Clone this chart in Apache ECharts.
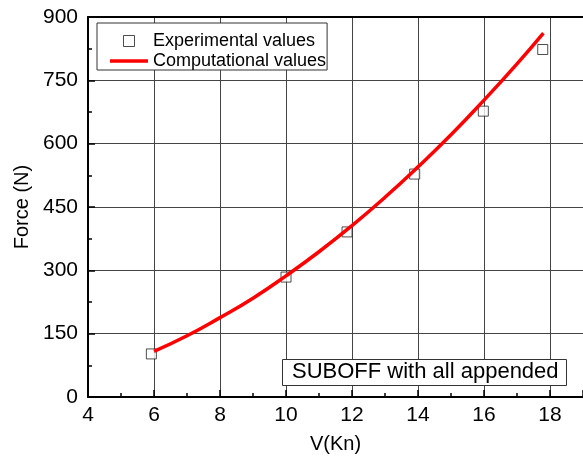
<!DOCTYPE html>
<html>
<head>
<meta charset="utf-8">
<script src="https://cdn.jsdelivr.net/npm/echarts@6/dist/echarts.min.js"></script>
<style>
    html, body { margin: 0; padding: 0; background: #fff; }
    #chart { width: 583px; height: 459px; }
</style>
</head>
<body>
<div id="chart"></div>
<script>
// experimental points (V in knots, force in N)
const expSpeed = [ 5.92, 10.0, 11.85, 13.9, 15.98, 17.78 ];
const expForce = [ 102, 284, 391, 528, 677, 823 ];

// computational curve
const compSpeed = [ 6, 7, 8, 9, 10, 11, 12, 13, 14, 15, 16, 17, 17.8 ];
const compForce = [ 108, 145, 188, 234, 287, 344, 406, 473, 545, 621, 703, 789, 862 ];

const xTicks = [ 4, 6, 8, 10, 12, 14, 16, 18 ];
const yTicks = [ 0, 150, 300, 450, 600, 750, 900 ];

const FONT = 'Arial, "Liberation Sans", sans-serif';

const chartContext = {
    draw() {
        const el = document.getElementById( 'chart' );
        if ( !el ) return;
        const c = echarts.init( el, null, { renderer: 'canvas' } );

        const axisLine = { show: true, onZero: false, lineStyle: { color: '#000', width: 2 } };
        const grid = { show: true, lineStyle: { color: '#444', width: 1 } };

        c.setOption( {
            animation: false,
            backgroundColor: '#fff',
            textStyle: { fontFamily: FONT },
            grid: { left: 88, top: 17, right: 0, bottom: 61 },
            title: {
                text: 'SUBOFF with all appended',
                left: 282, top: 359,
                padding: [ 2, 8, 3, 10 ],
                borderColor: '#333', borderWidth: 1,
                backgroundColor: '#fff',
                textStyle: { fontFamily: FONT, fontSize: 22, fontWeight: 'normal', color: '#000', lineHeight: 22 }
            },
            legend: {
                orient: 'vertical',
                left: 97, top: 23,
                padding: [ 9, 1, 0, 13 ],
                itemGap: 2,
                itemWidth: 38, itemHeight: 11,
                borderColor: '#333', borderWidth: 1,
                backgroundColor: '#fff',
                textStyle: { fontFamily: FONT, fontSize: 18, color: '#000' },
                data: [
                    { name: 'Experimental values', icon: 'path://M0,0H10V10H0Z', itemStyle: { color: '#fff', borderColor: '#222', borderWidth: 1 } },
                    { name: 'Computational values', icon: 'path://M0,0H38V3.5H0Z', itemStyle: { color: '#f00', borderWidth: 0 } }
                ]
            },
            xAxis: [ {
                type: 'value',
                min: xTicks[0], max: 19, interval: 2,
                name: 'V(Kn)', nameLocation: 'middle', nameGap: 37,
                nameTextStyle: { fontFamily: FONT, fontSize: 20, color: '#000' },
                axisLine,
                axisTick: { show: true, inside: true, length: 7, lineStyle: { color: '#000', width: 1.5 } },
                minorTick: { show: true, splitNumber: 2, length: 4, lineStyle: { color: '#000', width: 1.5 } },
                axisLabel: { fontFamily: FONT, fontSize: 21, color: '#000', margin: 8, showMaxLabel: false },
                splitLine: grid
            }, {
                type: 'value', position: 'top',
                min: xTicks[0], max: 19, interval: 2,
                axisLine,
                axisTick: { show: false },
                axisLabel: { show: false },
                splitLine: { show: false }
            } ],
            yAxis: {
                type: 'value',
                min: yTicks[0], max: yTicks[yTicks.length - 1], interval: 150,
                name: 'Force (N)', nameLocation: 'middle', nameGap: 56,
                nameTextStyle: { fontFamily: FONT, fontSize: 20, color: '#000' },
                axisLine,
                axisTick: { show: true, inside: true, length: 7, lineStyle: { color: '#000', width: 1.5 } },
                minorTick: { show: true, splitNumber: 2, length: 4, lineStyle: { color: '#000', width: 1.5 } },
                axisLabel: { fontFamily: FONT, fontSize: 21, color: '#000', margin: 10 },
                splitLine: grid
            },
            series: [ {
                name: 'Experimental values',
                type: 'scatter',
                symbol: 'rect', symbolSize: 10,
                itemStyle: { color: '#fff', borderColor: '#222', borderWidth: 1 },
                z: 2,
                data: expSpeed.map( ( v, i ) => [ v, expForce[i] ] )
            }, {
                name: 'Computational values',
                type: 'line',
                smooth: true,
                showSymbol: false, symbol: 'none',
                lineStyle: { color: '#f00', width: 3.5 },
                itemStyle: { color: '#f00' },
                z: 3,
                data: compSpeed.map( ( v, i ) => [ v, compForce[i] ] )
            } ]
        } );
    }
};

!(function () {
    Object.values( chartContext ).forEach( f => f() );
})();
</script>
</body>
</html>
